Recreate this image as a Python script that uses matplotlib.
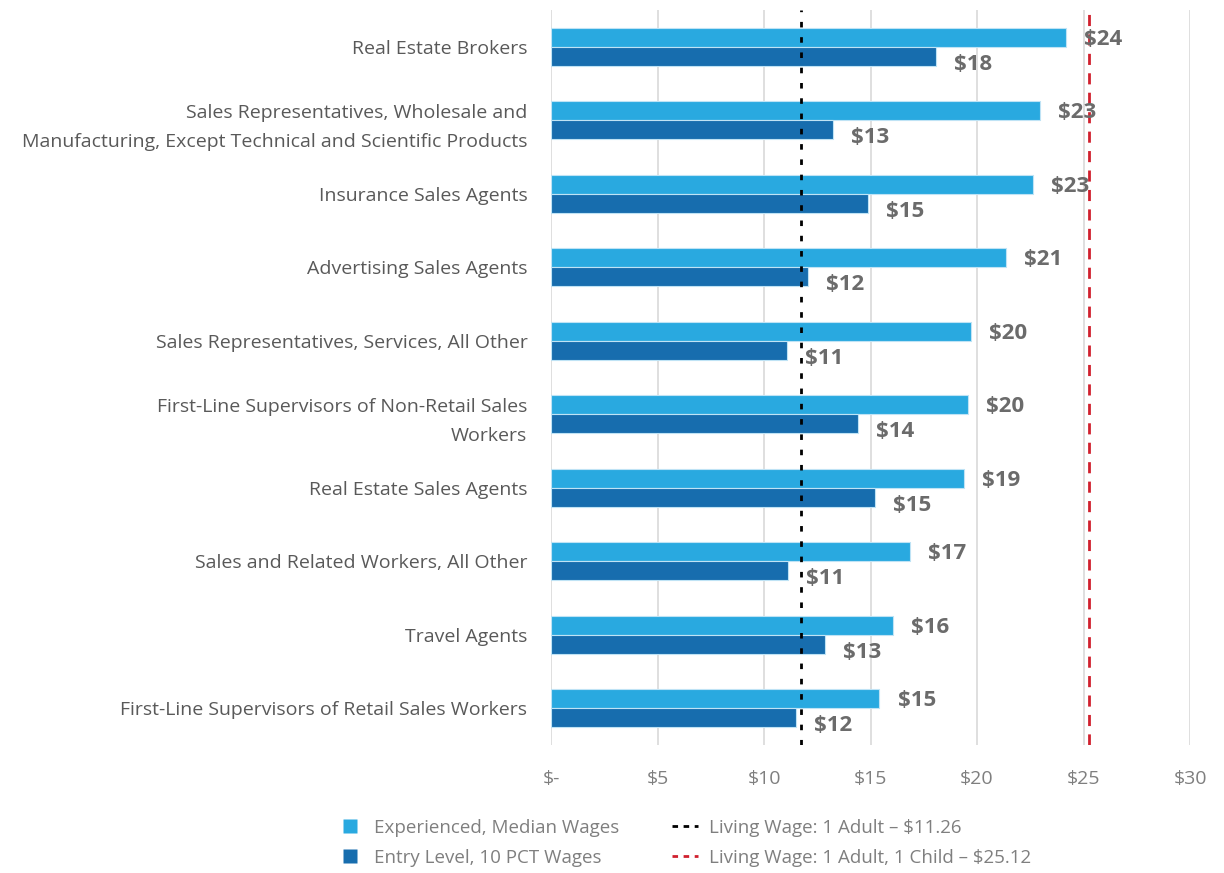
import matplotlib
matplotlib.use("Agg")
import matplotlib.pyplot as plt
from matplotlib.lines import Line2D
import matplotlib.transforms as mtransforms
import numpy as np

plt.rcParams['font.family'] = ['Open Sans', 'DejaVu Sans']

categories = [
    "Real Estate Brokers",
    "Sales Representatives, Wholesale and\nManufacturing, Except Technical and Scientific Products",
    "Insurance Sales Agents",
    "Advertising Sales Agents",
    "Sales Representatives, Services, All Other",
    "First-Line Supervisors of Non-Retail Sales\nWorkers",
    "Real Estate Sales Agents",
    "Sales and Related Workers, All Other",
    "Travel Agents",
    "First-Line Supervisors of Retail Sales Workers",
]
experienced = [24.16, 22.94, 22.62, 21.36, 19.72, 19.58, 19.39, 16.87, 16.07, 15.42]
entry = [18.08, 13.22, 14.90, 12.06, 11.07, 14.39, 15.19, 11.12, 12.85, 11.52]
living_1adult_pos = 11.72
living_1adult_child_pos = 25.25
xticks = [0, 5, 10, 15, 20, 25, 30]
xticklabels = ["$-", "$5", "$10", "$15", "$20", "$25", "$30"]
legend_labels = ["Experienced, Median Wages", "Entry Level, 10 PCT Wages",
                 "Living Wage: 1 Adult \u2013 $11.26", "Living Wage: 1 Adult, 1 Child \u2013 $25.12"]

c_exp = "#29A9E0"
c_ent = "#176DAE"
gray = "#6b6b6b"

fig = plt.figure(figsize=(12.24, 8.73), dpi=100)
ax = fig.add_axes([551/1224, 1-745/873, (1190-551)/1224, (745-10)/873])

n = len(categories)
y = np.arange(n)
h = 0.26
ax.barh(y - h/2, experienced, height=h, color=c_exp, edgecolor="#bfe3f5", linewidth=0.8, zorder=2)
ax.barh(y + h/2, entry, height=h, color=c_ent, edgecolor="#bfe3f5", linewidth=0.8, zorder=2)

ax.axvline(living_1adult_pos, color="black", linestyle=(0, (2, 3.5)), linewidth=2, zorder=3)
ax.axvline(living_1adult_child_pos, color="#D0202E", linestyle=(0, (4, 3)), linewidth=2, zorder=3)

for i in range(n):
    ax.text(experienced[i] + 0.85, y[i] - h/2 + 0.03, f"${experienced[i]:.0f}", ha="left", va="center",
            fontsize=16, fontweight="bold", color=gray, zorder=4)
    ax.text(entry[i] + 0.85, y[i] + h/2 + 0.11, f"${entry[i]:.0f}", ha="left", va="center",
            fontsize=16, fontweight="bold", color=gray, zorder=4)

ax.set_ylim(n - 0.5, -0.5)
ax.set_xlim(0, 30)
ax.set_xticks(xticks)
ax.set_xticklabels(xticklabels, fontsize=14, color="#7f7f7f")
ax.set_yticks(y)
ax.set_yticklabels(categories, fontsize=14, color="#595959", linespacing=1.75)
offset = mtransforms.ScaledTranslation(0, -2/100, fig.dpi_scale_trans)
for lbl in ax.get_yticklabels():
    lbl.set_transform(lbl.get_transform() + offset)
ax.tick_params(axis="x", length=0, pad=18)
ax.tick_params(axis="y", length=0, pad=17)
ax.grid(axis="x", color="#d9d9d9", linewidth=1.2, zorder=0)
ax.set_axisbelow(True)
for s in ax.spines.values():
    s.set_visible(False)

handles = [
    Line2D([0], [0], linestyle="none", marker="s", markersize=10, markerfacecolor=c_exp, markeredgecolor="none"),
    Line2D([0], [0], linestyle="none", marker="s", markersize=10, markerfacecolor=c_ent, markeredgecolor="none"),
    Line2D([0], [0], color="black", linestyle=(0, (2, 2)), linewidth=2),
    Line2D([0], [0], color="#D0202E", linestyle=(0, (2, 2)), linewidth=2),
]
leg = fig.legend(handles, legend_labels, ncol=2, loc="center", bbox_to_anchor=(684/1224, 1 - 843/873),
                 frameon=False, fontsize=13.5, handlelength=1.4, handleheight=0.9,
                 columnspacing=2.8, labelspacing=0.65, handletextpad=0.6)
for t in leg.get_texts():
    t.set_color("#7f7f7f")

fig.savefig("out.png", dpi=100)
